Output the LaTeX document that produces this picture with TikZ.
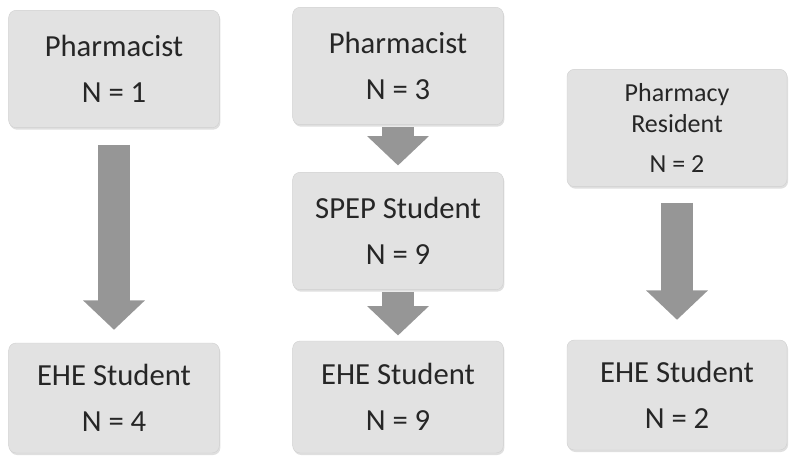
\documentclass[tikz,border=0pt]{standalone}
\usepackage{fontspec}
\setmainfont{Carlito}
\usepackage{xcolor}
\definecolor{boxgray}{RGB}{226,226,226}
\definecolor{arrowgray}{RGB}{150,150,150}
\definecolor{textgray}{RGB}{38,38,38}
\usetikzlibrary{arrows.meta}
\usetikzlibrary{shadows}
\usetikzlibrary{positioning}
\tikzset{
	stagebox/.style={rounded corners=5.5pt, fill=boxgray, draw=boxgray!92!black, line width=0.3pt,
		text=textgray, align=center, inner sep=0pt, minimum width=158pt, minimum height=88pt,
		drop shadow={shadow xshift=0.8pt, shadow yshift=-1.5pt, opacity=0.25},
		font=\fontsize{23}{35}\selectfont},
	flowarrow/.style={draw=arrowgray, line width=24pt, -{Triangle[width=45pt,length=22pt]}}
}

\begin{document}
\begin{tikzpicture}[x=0.75pt, y=-0.75pt]
	\useasboundingbox (0,0) rectangle (793,460);
	
	% left column
	\node[stagebox] (pharm1) at (114,69) {Pharmacist\\N = 1};
	\node[stagebox, minimum height=82.5pt] (ehe1) at (114,398) {EHE Student\\N = 4};
	
	% middle column
	\node[stagebox] (pharm3) at (398,66) {Pharmacist\\N = 3};
	\node[stagebox] (spep) at (398,231) {SPEP Student\\N = 9};
	\node[stagebox, minimum height=84pt] (ehe2) at (398,397) {EHE Student\\N = 9};
	
	% right column
	\node[stagebox, minimum width=165pt, font=\fontsize{19.5}{23}\selectfont] (resident) at (677,128)
	{Pharmacy\\Resident\\[7pt]N = 2};
	\node[stagebox, minimum width=165pt, minimum height=82.5pt] (ehe3) at (677,395) {EHE Student\\N = 2};
	
	% arrows
	\draw[flowarrow, shorten <=12.75pt, shorten >=9.75pt] (pharm1.south) -- (ehe1.north);
	\draw[flowarrow, shorten <=1.5pt, shorten >=5pt] (pharm3.south) -- (spep.north);
	\draw[flowarrow, shorten <=1.5pt, shorten >=4pt] (spep.south) -- (ehe2.north);
	\draw[flowarrow, shorten <=12pt, shorten >=15pt] (resident.south) -- (ehe3.north);
\end{tikzpicture}
\end{document}
